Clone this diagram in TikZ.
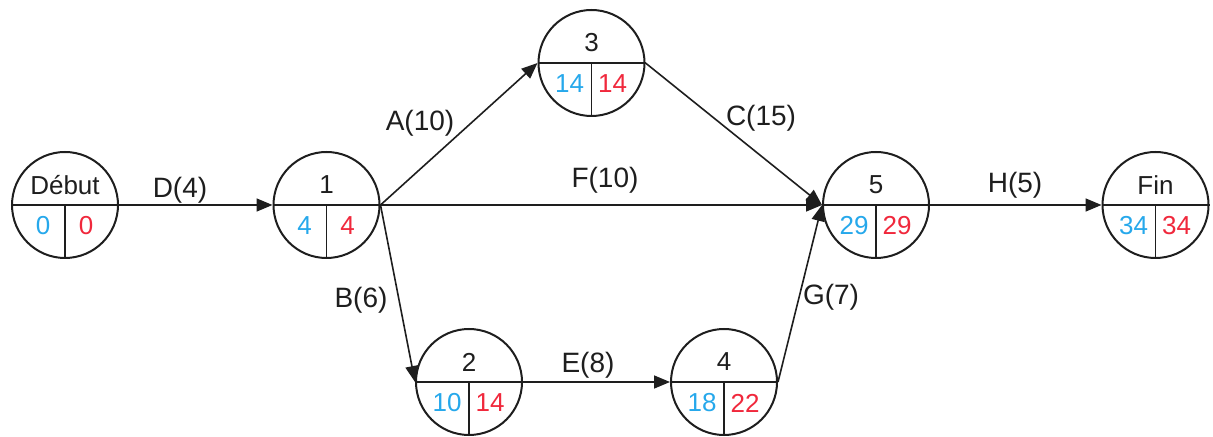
\documentclass[tikz,border=0pt]{standalone}
\usepackage{fontspec}
\setmainfont{Liberation Sans}
\usetikzlibrary{arrows.meta}
\definecolor{eblue}{RGB}{38,168,235}
\definecolor{lred}{RGB}{240,40,60}
\definecolor{ink}{RGB}{30,30,30}
\tikzset{
  evt/.style={circle,draw=ink,line width=1pt,minimum size=53pt,inner sep=0pt},
  sep/.style={draw=ink,line width=0.9pt},
  txt/.style={font=\fontsize{13}{15}\selectfont,inner sep=0pt,text=ink},
  act/.style={draw=ink,line width=0.8pt,-{Triangle[length=8pt,width=6.5pt]}},
  lbl/.style={font=\fontsize{14}{16}\selectfont,inner sep=0pt,text=ink}
}
\newcommand{\evtnode}[6]{%
  \node[evt] (#1) at (#2,#3) {};
  \draw[sep] (#1.west) -- (#1.east);
  \draw[sep] (#1.center) -- (#1.south);
  \node[txt] (#1-t) at ([yshift=10pt]#1.center) {#4};
  \node[txt,text=eblue] (#1-e) at ([xshift=-11pt,yshift=-10.5pt]#1.center) {#5};
  \node[txt,text=lred] (#1-l) at ([xshift=10.5pt,yshift=-10.5pt]#1.center) {#6};
}
\begin{document}
\begin{tikzpicture}[x=0.5pt,y=-0.5pt]
\useasboundingbox (0,0) rectangle (1213,437);
\evtnode{deb}{65}{205}{Début}{0}{0}
\evtnode{n1}{326.5}{205}{1}{4}{4}
\evtnode{n3}{591.5}{63}{3}{14}{14}
\evtnode{n5}{876}{205}{5}{29}{29}
\evtnode{fin}{1155.5}{205}{Fin}{34}{34}
\evtnode{n2}{469}{382}{2}{10}{14}
\evtnode{n4}{724}{382}{4}{18}{22}

\draw[act] (deb.east) -- (n1.west);
\draw[act] (n1.east) -- (n3.west);
\draw[act] (n1.east) -- (n5.west);
\draw[act] (n1.east) -- (n2.west);
\draw[act] (n3.east) -- (n5.west);
\draw[act] (n2.east) -- (n4.west);
\draw[act] (n4.east) -- (n5.west);
\draw[act] (n5.east) -- (fin.west);

\node[lbl] (lD) at (180,190) {D(4)};
\node[lbl] (lA) at (420,123) {A(10)};
\node[lbl] (lF) at (605,180) {F(10)};
\node[lbl] (lC) at (761,118) {C(15)};
\node[lbl] (lB) at (361,300) {B(6)};
\node[lbl] (lE) at (588,365) {E(8)};
\node[lbl] (lG) at (831,297) {G(7)};
\node[lbl] (lH) at (1015,185) {H(5)};
\end{tikzpicture}
\end{document}
